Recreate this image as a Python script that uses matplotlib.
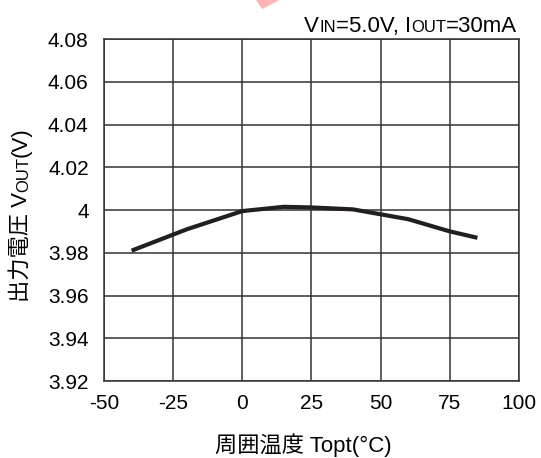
import matplotlib
matplotlib.use('Agg')
import matplotlib.pyplot as plt
from matplotlib.patches import Polygon
from matplotlib.text import Annotation
from matplotlib.offsetbox import TextArea, HPacker, AnnotationBbox

plt.rcParams['font.family'] = ['Liberation Sans', 'Noto Sans CJK JP', 'DejaVu Sans']
plt.rcParams['axes.unicode_minus'] = False

# ambient temperature (C) vs output voltage (V)
temps = [-40, -20, 0, 15, 25, 40, 60, 75, 85]
vout = [3.981, 3.991, 3.9995, 4.0015, 4.0012, 4.0003, 3.9957, 3.990, 3.987]

xticks = [-50, -25, 0, 25, 50, 75, 100]
yticks = [3.92, 3.94, 3.96, 3.98, 4.00, 4.02, 4.04, 4.06, 4.08]
ytick_labels = ['3.92', '3.94', '3.96', '3.98', '4', '4.02', '4.04', '4.06', '4.08']

INK, GRIDC = '#231f20', '#333333'
TICK, BIG, SMALL = 15, 16, 12

fig = plt.figure(figsize=(5.41, 4.58), dpi=100)
ax = fig.add_axes([0.1922, 0.1681, 0.767, 0.7467])

ax.plot(temps, vout, color=INK, linewidth=3, solid_capstyle='butt', zorder=3)

ax.set_xlim(-50, 100)
ax.set_ylim(3.92, 4.08)
ax.set_xticks(xticks)
ax.set_yticks(yticks)
ax.set_yticklabels(ytick_labels)
ax.tick_params(length=0, labelsize=TICK, colors='black')
ax.tick_params(axis='y', pad=11)
ax.tick_params(axis='x', pad=9)
ax.grid(True, color=GRIDC, linewidth=1.1)
for s in ax.spines.values():
    s.set_color(GRIDC)
    s.set_linewidth(1.1)

# condition note, small caps for the subscripts
parts = [('V', BIG), ('IN', SMALL), ('=5.0V, I', BIG), ('OUT', SMALL), ('=30mA', BIG)]
box = HPacker(children=[TextArea(t, textprops=dict(size=s, color='black')) for t, s in parts],
              align='baseline', pad=0, sep=0)
fig.add_artist(AnnotationBbox(box, (517, 458 - 37), xycoords='figure pixels',
                              box_alignment=(1, 0), frameon=False, pad=0))

# y label, chained rotated pieces
t1 = fig.text(0.039, 0.341, '出力電圧 V', rotation=90, ha='center', va='bottom', size=BIG)
t2 = fig.add_artist(Annotation('OUT', xy=(1, 1), xycoords=t1, rotation=90,
                               ha='right', va='bottom', size=SMALL))
fig.add_artist(Annotation('(V)', xy=(1, 1), xycoords=t2, rotation=90,
                          ha='right', va='bottom', size=BIG))

fig.text(0.560, 0.029, '周囲温度 Topt(°C)', ha='center', va='center', size=BIG)

# pink watermark fragment at the top edge
fig.add_artist(Polygon([(256 / 541, 1.0), (279 / 541, 1.0), (262 / 541, 1 - 9 / 458)],
                       closed=True, transform=fig.transFigure, facecolor='#ffb3b3',
                       edgecolor='none'))

fig.savefig('out.png', dpi=100, facecolor='white')
